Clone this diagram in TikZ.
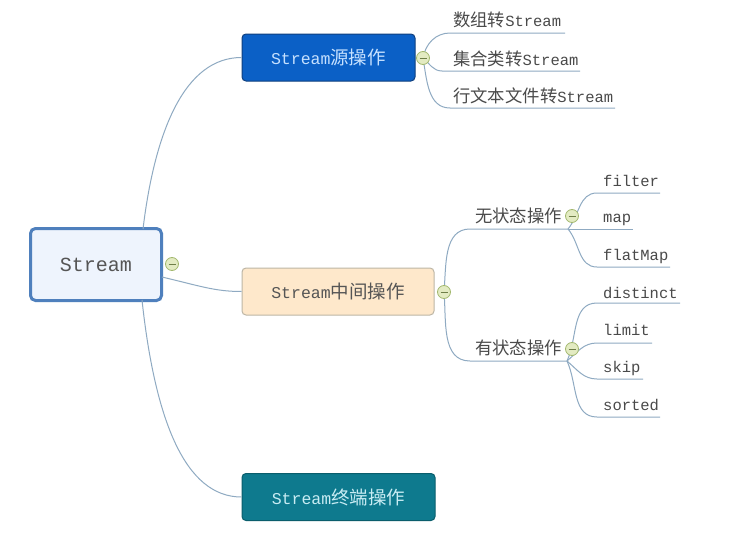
\documentclass[tikz,border=0pt]{standalone}
\usepackage{fontspec}
\setmainfont{Liberation Mono}
\newfontfamily\cjkfont[Scale=1.12]{Noto Sans CJK SC}
\newcommand{\zh}[1]{{\cjkfont #1}}
\definecolor{linec}{HTML}{8FAAC2}
\definecolor{rootfill}{HTML}{EEF4FD}
\definecolor{rootdraw}{HTML}{4F80BD}
\definecolor{srcfill}{HTML}{0B60C6}
\definecolor{srcdraw}{HTML}{0F3F7E}
\definecolor{srctext}{HTML}{C6E1FF}
\definecolor{midfill}{HTML}{FEE8CB}
\definecolor{middraw}{HTML}{BDB6A6}
\definecolor{midtext}{HTML}{555555}
\definecolor{endfill}{HTML}{0E7A8E}
\definecolor{enddraw}{HTML}{0A5E6C}
\definecolor{endtext}{HTML}{C8ECF3}
\definecolor{leaftext}{HTML}{4A4A4A}
\definecolor{knobfill}{HTML}{E3EBC2}
\definecolor{knobdraw}{HTML}{A3B86E}
\definecolor{knobminus}{HTML}{6E7E48}
\begin{document}
\begin{tikzpicture}[x=1pt,y=-1pt,
  conn/.style={draw=linec, line width=1pt},
  rootbox/.style={draw=rootdraw, line width=3pt, fill=rootfill, rounded corners=5pt,
    minimum width=131pt, minimum height=72pt, text=midtext, font=\fontsize{20}{22}\selectfont},
  topicbox/.style={rounded corners=4pt, line width=1pt, minimum height=47pt, inner sep=0pt,
    font=\fontsize{16.5}{18}\selectfont},
  leaf/.style={anchor=base west, inner sep=0pt, text=leaftext, font=\fontsize{15.5}{17}\selectfont},
  sub/.style={anchor=base west, inner sep=0pt, text=leaftext, font=\fontsize{15.5}{17}\selectfont},
  knob/.style={circle, draw=knobdraw, fill=knobfill, line width=0.8pt, minimum size=13pt, inner sep=0pt,
    path picture={\draw[knobminus, line width=1pt] ([xshift=-3.5pt]path picture bounding box.center) -- ([xshift=3.5pt]path picture bounding box.center);}}
]
\useasboundingbox (0,0) rectangle (729,538);
\fill[white] (0,0) rectangle (729,538);

% main nodes
\node[rootbox] (root) at (96,264.5) {Stream};
\node[topicbox, draw=srcdraw, fill=srcfill, text=srctext, minimum width=173pt] (src) at (328.5,57.5) {Stream\zh{源操作}};
\node[topicbox, draw=middraw, fill=midfill, text=midtext, minimum width=192pt] (mid) at (338,291.5) {Stream\zh{中间操作}};
\node[topicbox, draw=enddraw, fill=endfill, text=endtext, minimum width=193pt] (term) at (338.5,497) {Stream\zh{终端操作}};

% root connectors
\coordinate (rtop) at (143,229);
\coordinate (rmid) at (162,277);
\coordinate (rbot) at (142,300);
\draw[conn] (rtop) .. controls (155,130) and (185,57.5) .. (src.west);
\draw[conn] (rmid) .. controls (200,286) and (215,291.5) .. (mid.west);
\draw[conn] (rbot) .. controls (155,420) and (185,497) .. (term.west);

% source children
\coordinate (c1) at (423,58);
\coordinate (aS) at (450,33);  \coordinate (aE) at (565,33);
\coordinate (bS) at (442,71);  \coordinate (bE) at (580,71);
\coordinate (cS) at (450,108); \coordinate (cE) at (615,108);
\node[leaf] (a) at (453,27) {\zh{数组转}Stream};
\node[leaf] (b) at (453,65) {\zh{集合类转}Stream};
\node[leaf] (c) at (453,102) {\zh{行文本文件转}Stream};
\draw[conn] (c1) to[out=80,in=180] (aS) -- (aE);
\draw[conn] (c1) to[out=-40,in=180] (bS) -- (bE);
\draw[conn] (c1) to[out=-80,in=180] (cS) -- (cE);

% middle children
\coordinate (c2) at (444,292);
\coordinate (s1S) at (470,229); \coordinate (s1) at (568,229);
\coordinate (s2S) at (470,361); \coordinate (s2) at (567,361);
\node[sub] (wu) at (475,222) {\zh{无状态操作}};
\node[sub] (you) at (475,354) {\zh{有状态操作}};
\draw[conn] (c2) to[out=-85,in=180] (s2S) -- (s2);
\draw[conn] (c2) to[out=85,in=180] (s1S) -- (s1);

% stateless leaves
\coordinate (fS) at (597,193); \coordinate (fE) at (660,193);
\coordinate (mE) at (633,229);
\coordinate (gS) at (597,267); \coordinate (gE) at (670,267);
\node[leaf] (filter) at (603,186) {filter};
\node[leaf] (map) at (603,222) {map};
\node[leaf] (flatmap) at (603,260) {flatMap};
\draw[conn] (s1) to[out=50,in=180] (fS) -- (fE);
\draw[conn] (s1) -- (mE);
\draw[conn] (s1) to[out=-50,in=180] (gS) -- (gE);

% stateful leaves
\coordinate (dS) at (597,303); \coordinate (dE) at (680,303);
\coordinate (lS) at (597,343); \coordinate (lE) at (652,343);
\coordinate (kS) at (597,379); \coordinate (kE) at (643,379);
\coordinate (oS) at (597,417); \coordinate (oE) at (660,417);
\node[leaf] (distinct) at (603,298) {distinct};
\node[leaf] (limit) at (603,335) {limit};
\node[leaf] (skip) at (603,372) {skip};
\node[leaf] (sorted) at (603,410) {sorted};
\draw[conn] (s2) to[out=65,in=180] (dS) -- (dE);
\draw[conn] (s2) to[out=40,in=180] (lS) -- (lE);
\draw[conn] (s2) to[out=-40,in=180] (kS) -- (kE);
\draw[conn] (s2) to[out=-65,in=180] (oS) -- (oE);

% collapse knobs
\node[knob] (k0) at (172,264) {};
\node[knob] (k1) at (423,58) {};
\node[knob] (k2) at (444,292) {};
\node[knob] (k3) at (572,216) {};
\node[knob] (k4) at (572,349) {};
\end{tikzpicture}
\end{document}
